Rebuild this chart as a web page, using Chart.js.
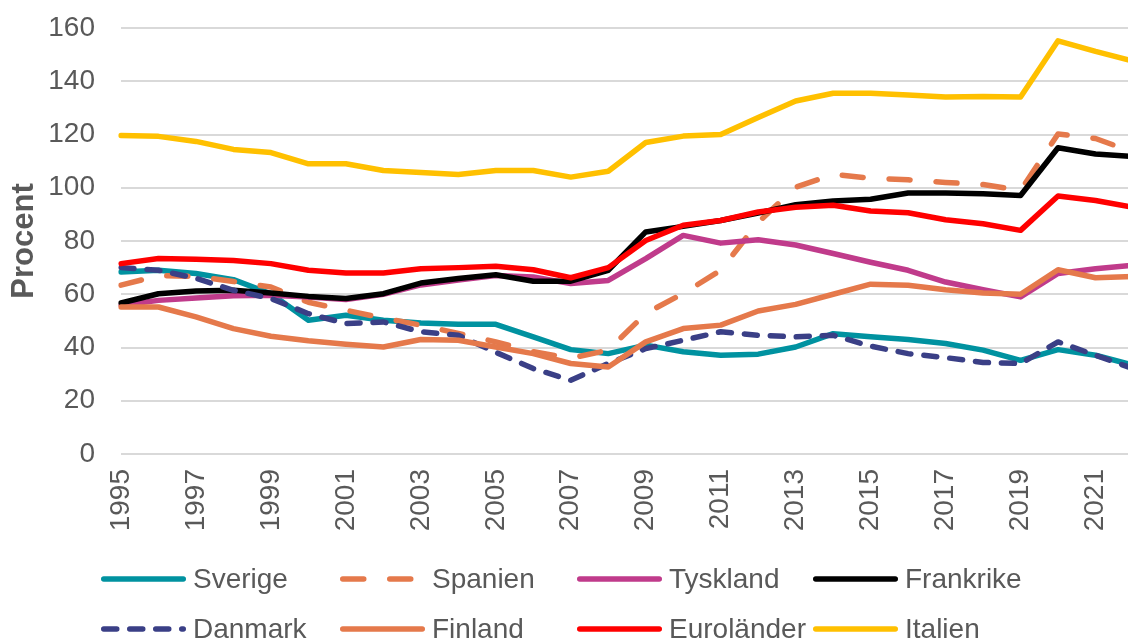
<!DOCTYPE html>
<html><head><meta charset="utf-8">
<script src="https://cdn.jsdelivr.net/npm/chart.js@4/dist/chart.umd.min.js"></script>
<style>html,body{margin:0;padding:0;overflow:hidden;background:#fff;width:1128px;height:639px}canvas{display:block}</style>
</head><body><canvas id="c" width="1133" height="639"></canvas>
<script>
const years = [1995,1996,1997,1998,1999,2000,2001,2002,2003,2004,2005,2006,2007,2008,2009,2010,2011,2012,2013,2014,2015,2016,2017,2018,2019,2020,2021,2022];
const seriesNames = ["Sverige","Spanien","Tyskland","Frankrike","Danmark","Finland","Euroländer","Italien"];
const sverige   = [68.4,69.0,67.8,65.5,60.2,50.2,52.1,50.2,49.2,48.7,48.7,44.0,39.2,37.7,40.9,38.4,37.1,37.5,40.2,45.2,44.0,43.0,41.5,39.0,35.2,39.2,37.1,33.4];
const spanien   = [63.4,67.0,66.7,64.8,62.7,57.0,54.0,51.0,48.4,45.3,42.1,38.4,36.0,39.0,52.8,60.3,69.0,87.0,100.2,105.0,103.6,103.0,102.0,101.2,99.0,120.2,118.5,113.4];
const tyskland  = [55.9,57.7,58.6,59.4,59.6,59.0,58.0,60.0,63.5,65.3,67.0,66.5,64.0,65.2,73.4,82.1,79.2,80.5,78.5,75.3,72.0,69.0,64.6,61.7,59.0,67.8,69.6,70.9];
const frankrike = [56.7,60.2,61.2,61.5,60.5,59.2,58.4,60.2,64.2,65.9,67.3,64.9,64.9,69.0,83.4,85.5,87.7,90.5,93.6,95.0,95.7,98.0,98.0,97.7,97.1,115.0,112.7,111.7];
const danmark   = [70.0,69.0,66.0,61.5,58.4,52.7,49.0,49.6,45.9,44.6,38.2,32.1,27.7,34.0,39.6,42.7,45.9,44.6,44.0,44.6,40.5,37.7,36.2,34.4,34.0,42.1,37.1,32.1];
const finland   = [55.2,55.2,51.5,47.1,44.2,42.5,41.2,40.2,43.0,42.7,40.2,37.7,34.0,32.7,42.1,47.1,48.4,53.7,56.2,60.0,63.8,63.4,61.7,60.5,60.0,69.2,66.2,66.7];
const eurolander= [71.5,73.4,73.1,72.7,71.5,69.0,68.0,68.0,69.6,70.0,70.5,69.2,66.2,70.0,80.2,85.9,87.7,90.9,92.7,93.4,91.3,90.6,88.0,86.5,84.0,96.9,95.2,92.7];
const italien   = [119.6,119.3,117.4,114.4,113.2,109.0,109.0,106.5,105.7,105.0,106.5,106.5,104.0,106.2,117.0,119.4,120.0,126.4,132.6,135.5,135.5,134.8,134.1,134.3,134.1,155.2,151.2,147.6];
const yTicks = [0,20,40,60,80,100,120,140,160];
const yTitle = "Procent";

const values = [sverige, spanien, tyskland, frankrike, danmark, finland, eurolander, italien];
const colors = ["#0092a0","#e5794b","#c03b8b","#000000","#3a3f86","#e5794b","#ff0000","#ffc000"];
const dashes = [[],[21,26],[],[],[13,13],[],[],[]];

const TXT = "#595959";
const FONT = "'Liberation Sans', Arial, sans-serif";

const datasets = seriesNames.map((n, i) => ({
  label: n,
  data: values[i],
  borderColor: colors[i],
  backgroundColor: colors[i],
  borderWidth: 5.5,
  borderDash: dashes[i],
  borderCapStyle: 'round',
  borderJoinStyle: 'round',
  pointRadius: 0,
  tension: 0,
  fill: false,
  order: seriesNames.length - i
}));

const legendPlugin = {
  id: 'gridLegend',
  afterDraw(chart) {
    const ctx = chart.ctx;
    const colX = [101, 340, 577, 813];
    const rowY = [579, 629];
    const lineLen = 85, textOff = 92;
    ctx.save();
    ctx.font = "28px " + FONT;
    ctx.textBaseline = 'middle';
    ctx.textAlign = 'left';
    chart.data.datasets.forEach((ds, i) => {
      const x = colX[i % 4], y = rowY[Math.floor(i / 4)];
      ctx.beginPath();
      ctx.lineWidth = 5.5;
      ctx.lineCap = 'round';
      ctx.strokeStyle = ds.borderColor;
      ctx.setLineDash(ds.borderDash || []);
      ctx.moveTo(x + 2.75, y);
      ctx.lineTo(x + lineLen - 2.75, y);
      ctx.stroke();
      ctx.setLineDash([]);
      ctx.fillStyle = TXT;
      ctx.fillText(ds.label, x + textOff, y + 1);
    });
    ctx.restore();
  }
};

const chart = new Chart(document.getElementById('c'), {
  type: 'line',
  data: { labels: years.map(String), datasets },
  options: {
    responsive: false,
    animation: false,
    devicePixelRatio: 1,
    layout: { padding: { top: 28, left: 0, right: 0, bottom: 0 } },
    plugins: { legend: { display: false }, tooltip: { enabled: false } },
    scales: {
      x: {
        type: 'category',
        offset: false,
        grid: { display: false, drawTicks: true, tickLength: 15 },
        border: { display: false },
        ticks: {
          autoSkip: false, minRotation: 90, maxRotation: 90, padding: 0,
          color: TXT, font: { family: FONT, size: 28 },
          callback: (v, i) => (years[i] % 2 === 1 ? String(years[i]) : null)
        },
        afterFit: s => { s.height = 185; }
      },
      y: {
        min: yTicks[0], max: yTicks[yTicks.length - 1],
        afterBuildTicks: s => { s.ticks = yTicks.map(v => ({ value: v })); },
        grid: { color: '#d9d9d9', lineWidth: 2, drawTicks: true, tickLength: 26, tickColor: 'rgba(0,0,0,0)' },
        border: { display: false },
        ticks: { padding: 0, color: TXT, font: { family: FONT, size: 28 } },
        title: { display: true, text: yTitle, color: TXT, font: { family: FONT, size: 31, weight: 'bold' }, padding: { top: 6, bottom: 0 } },
        afterFit: s => { s.width = 121; }
      }
    }
  },
  plugins: [legendPlugin]
});
</script>
</body></html>
